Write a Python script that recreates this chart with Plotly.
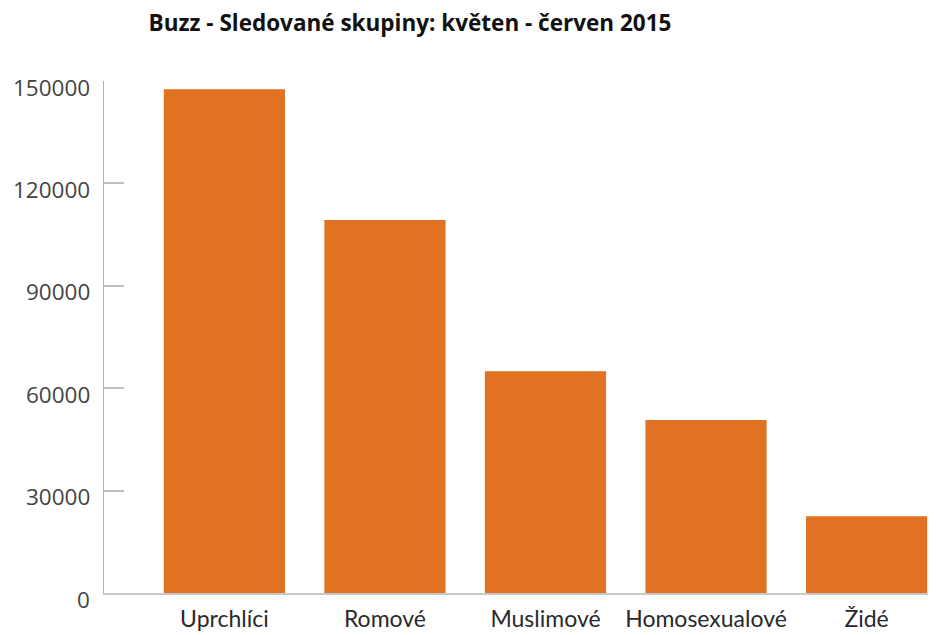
import plotly.graph_objects as go

categories = ["Uprchlíci", "Romové", "Muslimové", "Homosexualové", "Židé"]
values = [147600, 109300, 65000, 50700, 22500]
tick_vals = [0, 30000, 60000, 90000, 120000, 150000]
tick_text = ["0", "30000", "60000", "90000", "120000", "150000"]

fig = go.Figure(go.Bar(x=list(range(len(categories))), y=values,
                       marker=dict(color="#E07222", line=dict(width=0))))

# page body has an 8px margin, so layout margins compensate
fig.update_layout(
    width=936, height=635,
    margin=dict(l=96, r=10, t=73, b=50),
    paper_bgcolor="white", plot_bgcolor="white",
    bargap=0.245,
    showlegend=False,
    title=dict(text="<b>Buzz - Sledované skupiny: květen - červen 2015</b>",
               x=402/936, xanchor="center", y=1 - 15/635, yanchor="middle",
               font=dict(family="Open Sans", size=22.5, color="#111")),
    font=dict(family="Lato", size=18, color="#333"),
)
fig.update_xaxes(range=[-0.75, 4.42], tickvals=list(range(len(categories))),
                 ticktext=categories, showgrid=False, zeroline=False,
                 showline=True, linecolor="#c8c8c8", linewidth=2,
                 ticks="outside", ticklen=4, tickcolor="rgba(0,0,0,0)",
                 tickfont=dict(family="Lato", size=23, color="#2a2a2a"))
fig.update_yaxes(range=[0, 150000], tickvals=tick_vals,
                 showticklabels=False,
                 showgrid=False, zeroline=False, showline=True,
                 linecolor="#b0b0b0", linewidth=1,
                 ticks="inside", ticklen=20, tickcolor="#c0c0c0", tickwidth=2)

for v, t in zip(tick_vals, tick_text):
    fig.add_annotation(x=0, xref="paper", y=v, yref="y", text=t,
                       showarrow=False, xanchor="right", yanchor="middle",
                       xshift=-12, yshift=-6,
                       font=dict(family="Open Sans", size=22.5, color="#444"))

fig.write_html("out.html")
